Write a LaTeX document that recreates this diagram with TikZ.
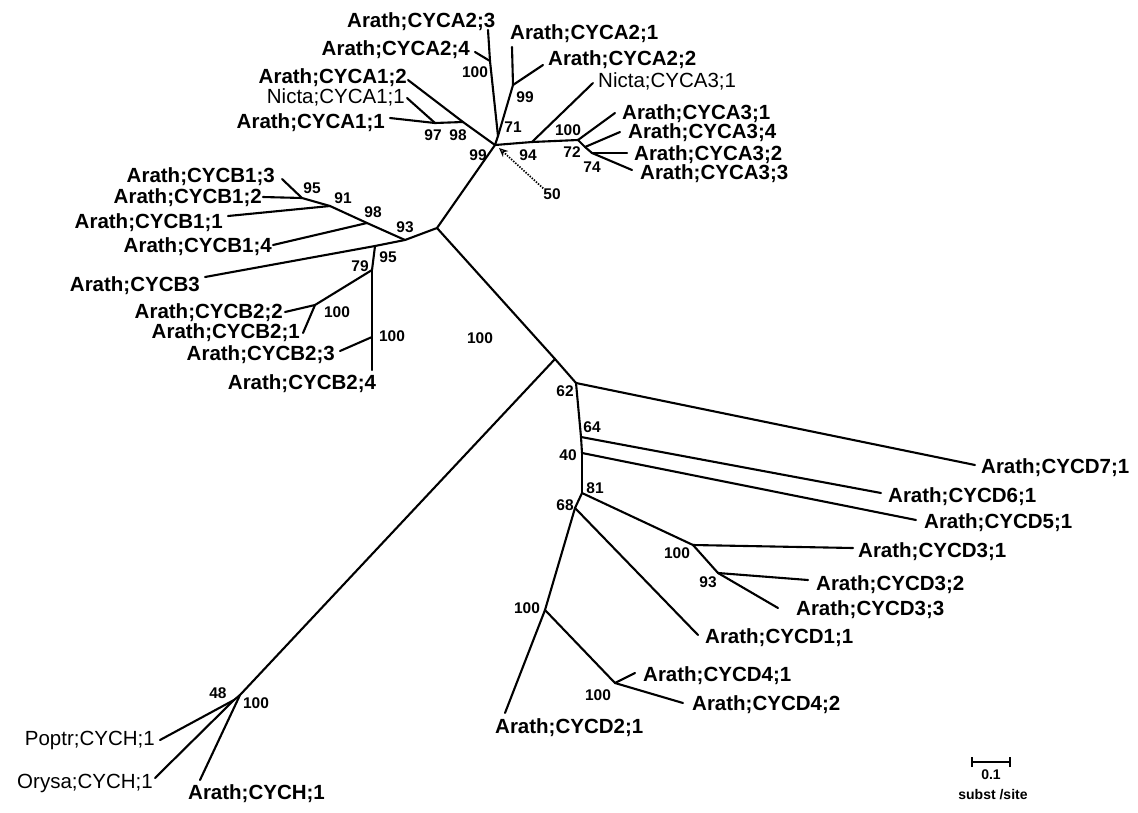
\documentclass[tikz,border=0pt]{standalone}
\usepackage{fontspec}
\setmainfont{Liberation Sans}
\usetikzlibrary{arrows.meta}
\tikzset{
  br/.style={line width=2.1pt, line cap=round, line join=round},
  lb/.style={font=\fontsize{20.5}{24}\selectfont\bfseries, inner sep=0pt},
  lr/.style={font=\fontsize{20.5}{24}\selectfont, inner sep=0pt},
  bs/.style={font=\fontsize{15.5}{18}\selectfont\bfseries, inner sep=0pt},
  sc/.style={font=\fontsize{14}{16}\selectfont\bfseries, inner sep=0pt},
  dotarrow/.style={line width=1.7pt, dash pattern=on 1.4pt off 1.4pt, -{Stealth[open,length=9pt,width=8pt,line width=1.2pt]}},
}
\begin{document}
\begin{tikzpicture}[x=1pt,y=-1pt]
\fill[white] (0,0) rectangle (1138,812);
\useasboundingbox (0,0) rectangle (1138,812);
% ---------- A cluster ----------
\coordinate (A0) at (495,145);
\coordinate (n71) at (498,136);
\coordinate (nA2a) at (490,61);
\coordinate (tA23) at (488,30);
\coordinate (tA24) at (475,52);
\coordinate (nA2b) at (513,85);
\coordinate (tA21) at (512,47);
\coordinate (tA22) at (543,65);
\coordinate (nA1b) at (463,122);
\coordinate (nA1a) at (435,123);
\coordinate (tA11) at (390,118);
\coordinate (tNA11) at (407,98);
\coordinate (tA12) at (408,80);
\coordinate (n94) at (532,142);
\coordinate (tNA31) at (593,83);
\coordinate (nA3a) at (578,140);
\coordinate (nA3b) at (585,147);
\coordinate (nA3c) at (592,153);
\coordinate (tA31) at (615,113);
\coordinate (tA34) at (620,132);
\coordinate (tA32) at (627,153);
\coordinate (tA33) at (632,170);
% ---------- B cluster ----------
\coordinate (BJ) at (437,228);
\coordinate (nB93) at (405,240);
\coordinate (nB98) at (367,223);
\coordinate (nB91) at (330,206);
\coordinate (nB95a) at (302,198);
\coordinate (tB13) at (282,179);
\coordinate (tB12) at (263,197);
\coordinate (tB11) at (228,216);
\coordinate (tB14) at (273,245);
\coordinate (nB95b) at (375,246);
\coordinate (tB3) at (205,277);
\coordinate (nB79) at (372,270);
\coordinate (nB100a) at (315,305);
\coordinate (tB22) at (285,312);
\coordinate (tB21) at (303,333);
\coordinate (nB100b) at (372,337);
\coordinate (tB23) at (340,351);
\coordinate (tB24) at (372,370);
% ---------- spine ----------
\coordinate (Apex) at (555,359);
% ---------- D cluster ----------
\coordinate (nD62) at (576,383);
\coordinate (nD64) at (581,437);
\coordinate (nD40) at (582,453);
\coordinate (nD81) at (582,493);
\coordinate (nD68) at (575,508);
\coordinate (tD7) at (975,465);
\coordinate (tD6) at (881,493);
\coordinate (tD5) at (916,520);
\coordinate (nD3a) at (693,545);
\coordinate (tD31) at (853,548);
\coordinate (nD3b) at (718,573);
\coordinate (tD32) at (808,580);
\coordinate (tD33) at (778,608);
\coordinate (tD1) at (698,635);
\coordinate (nD2) at (545,610);
\coordinate (tD2) at (505,713);
\coordinate (nD4) at (615,683);
\coordinate (tD41) at (635,673);
\coordinate (tD42) at (683,703);
% ---------- H cluster ----------
\coordinate (nCH100) at (240,695);
\coordinate (nCH48) at (234,700);
\coordinate (tPop) at (160,740);
\coordinate (tOry) at (155,778);
\coordinate (tArCH) at (200,780);
% ---------- branches ----------
\foreach \a/\b in {A0/n71, n71/nA2a, nA2a/tA23, nA2a/tA24, n71/nA2b, nA2b/tA21, nA2b/tA22,
  A0/nA1b, nA1b/tA12, nA1b/nA1a, nA1a/tA11, nA1a/tNA11,
  A0/n94, n94/tNA31, n94/nA3a, nA3a/tA31, nA3a/nA3b, nA3b/tA34, nA3b/nA3c, nA3c/tA32, nA3c/tA33,
  A0/BJ, BJ/nB93, nB93/nB98, nB98/nB91, nB91/nB95a, nB95a/tB13, nB95a/tB12, nB91/tB11, nB98/tB14,
  nB93/nB95b, nB95b/tB3, nB95b/nB79, nB79/nB100a, nB100a/tB22, nB100a/tB21, nB79/nB100b, nB100b/tB23, nB100b/tB24,
  BJ/Apex, Apex/nD62, Apex/nCH100,
  nD62/tD7, nD62/nD64, nD64/tD6, nD64/nD40, nD40/tD5, nD40/nD81, nD81/nD3a, nD3a/tD31, nD3a/nD3b,
  nD3b/tD32, nD3b/tD33, nD81/nD68, nD68/tD1, nD68/nD2, nD2/tD2, nD2/nD4, nD4/tD41, nD4/tD42,
  nCH100/nCH48, nCH48/tPop, nCH48/tOry, nCH100/tArCH}
  \draw[br] (\a) -- (\b);
% ---------- leaf labels ----------
\node[lb, anchor=west] (lA23) at (347,22) {Arath;CYCA2;3};
\node[lb, anchor=east] (lA24) at (470,50) {Arath;CYCA2;4};
\node[lb, anchor=west] (lA21) at (510,34) {Arath;CYCA2;1};
\node[lb, anchor=west] (lA22) at (548,60) {Arath;CYCA2;2};
\node[lr, anchor=west] (lNA31) at (598,81) {Nicta;CYCA3;1};
\node[lb, anchor=east] (lA12) at (407,78) {Arath;CYCA1;2};
\node[lr, anchor=east] (lNA11) at (405,97) {Nicta;CYCA1;1};
\node[lb, anchor=east] (lA11) at (385,123) {Arath;CYCA1;1};
\node[lb, anchor=west] (lA31) at (622,114) {Arath;CYCA3;1};
\node[lb, anchor=west] (lA34) at (628,133) {Arath;CYCA3;4};
\node[lb, anchor=west] (lA32) at (634,155) {Arath;CYCA3;2};
\node[lb, anchor=west] (lA33) at (640,174) {Arath;CYCA3;3};
\node[lb, anchor=east] (lB13) at (275,177) {Arath;CYCB1;3};
\node[lb, anchor=east] (lB12) at (262,198) {Arath;CYCB1;2};
\node[lb, anchor=east] (lB11) at (223,223) {Arath;CYCB1;1};
\node[lb, anchor=east] (lB14) at (272,247) {Arath;CYCB1;4};
\node[lb, anchor=east] (lB3) at (200,286) {Arath;CYCB3};
\node[lb, anchor=east] (lB22) at (283,313) {Arath;CYCB2;2};
\node[lb, anchor=east] (lB21) at (300,333) {Arath;CYCB2;1};
\node[lb, anchor=east] (lB23) at (335,355) {Arath;CYCB2;3};
\node[lb] (lB24) at (302,384) {Arath;CYCB2;4};
\node[lb, anchor=west] (lD7) at (981,468) {Arath;CYCD7;1};
\node[lb, anchor=west] (lD6) at (888,497) {Arath;CYCD6;1};
\node[lb, anchor=west] (lD5) at (924,523) {Arath;CYCD5;1};
\node[lb, anchor=west] (lD31) at (858,552) {Arath;CYCD3;1};
\node[lb, anchor=west] (lD32) at (816,585) {Arath;CYCD3;2};
\node[lb, anchor=west] (lD33) at (796,610) {Arath;CYCD3;3};
\node[lb, anchor=west] (lD1) at (705,638) {Arath;CYCD1;1};
\node[lb, anchor=west] (lD41) at (643,676) {Arath;CYCD4;1};
\node[lb, anchor=west] (lD42) at (692,705) {Arath;CYCD4;2};
\node[lb, anchor=west] (lD2) at (495,728) {Arath;CYCD2;1};
\node[lr, anchor=east] (lPop) at (155,740) {Poptr;CYCH;1};
\node[lr, anchor=east] (lOry) at (153,783) {Orysa;CYCH;1};
\node[lb, anchor=west] (lArCH) at (188,794) {Arath;CYCH;1};
% ---------- bootstrap values ----------
\node[bs] (bA2a) at (475,72) {100};
\node[bs] (bA2b) at (525,97) {99};
\node[bs] (b71) at (513,127) {71};
\node[bs] (b97) at (433,135) {97};
\node[bs] (b98A) at (458,135) {98};
\node[bs] (b99) at (478,155) {99};
\node[bs] (b94) at (528,155) {94};
\node[bs] (bA3a) at (568,130) {100};
\node[bs] (b72) at (572,152) {72};
\node[bs] (b74) at (592,167) {74};
\node[bs] (b50) at (552,194) {50};
\node[bs] (bB95a) at (312,188) {95};
\node[bs] (b91) at (343,198) {91};
\node[bs] (bB98) at (373,212) {98};
\node[bs] (bB93) at (405,227) {93};
\node[bs] (bB95b) at (388,257) {95};
\node[bs] (b79) at (360,266) {79};
\node[bs] (bB100a) at (337,312) {100};
\node[bs] (bB100b) at (392,336) {100};
\node[bs] (bMain) at (480,338) {100};
\node[bs] (b62) at (565,391) {62};
\node[bs] (b64) at (592,427) {64};
\node[bs] (b40) at (568,455) {40};
\node[bs] (b81) at (595,488) {81};
\node[bs] (b68) at (565,505) {68};
\node[bs] (bD3a) at (677,553) {100};
\node[bs] (bD3b) at (708,582) {93};
\node[bs] (bD2) at (527,608) {100};
\node[bs] (bD4) at (598,695) {100};
\node[bs] (b48) at (218,693) {48};
\node[bs] (bCH) at (256,703) {100};
% ---------- dotted arrow ----------
\coordinate (d50) at (499,148);
\draw[dotarrow] (b50.north west) -- (d50);
% ---------- scale bar ----------
\coordinate (sb1) at (972,762);
\coordinate (sb2) at (1010,762);
\draw[line width=1.6pt] (sb1) -- (sb2);
\draw[line width=1.6pt] ([yshift=-5pt]sb1) -- ([yshift=5pt]sb1);
\draw[line width=1.6pt] ([yshift=-5pt]sb2) -- ([yshift=5pt]sb2);
\node[sc] (sbt) at (991,775) {0.1};
\node[sc] (sbu) at (993,795) {subst /site};
\end{tikzpicture}
\end{document}
